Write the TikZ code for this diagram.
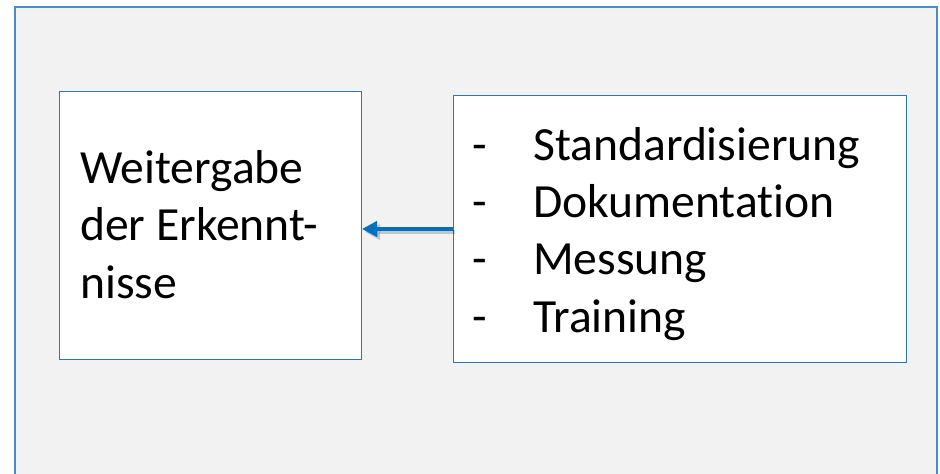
\documentclass[tikz,border=0pt]{standalone}
\usepackage{fontspec}
\setmainfont[RawFeature=-liga]{Carlito}
\usetikzlibrary{arrows.meta}
\definecolor{frameblue}{HTML}{4A8CC6}
\definecolor{boxblue}{HTML}{2E75B6}
\definecolor{arrowblue}{HTML}{0070C0}
\definecolor{bggray}{HTML}{F2F2F2}
\tikzset{
  panel/.style={draw=boxblue, line width=1pt, fill=white, rectangle, inner sep=0pt, anchor=north west},
  txt/.style={anchor=base west, inner sep=0pt, font=\fontsize{47.6}{57.5}\selectfont},
  link/.style={draw=arrowblue, line width=4pt, -{Triangle[length=15pt,width=15pt]}},
}
\begin{document}
\begin{tikzpicture}[x=1pt,y=-1pt]
\useasboundingbox (0,0) rectangle (940,474);
\fill[bggray] (15,7) rectangle (937,490);
\draw[frameblue, line width=1.5pt] (15,490) -- (15,7) -- (937,7) -- (937,490);
\node[panel, minimum width=302pt, minimum height=268pt] (left) at (59,91) {};
\node[panel, minimum width=453pt, minimum height=267pt] (right) at (453,95) {};
\node[txt] (l1) at (80,183) {Weitergabe};
\node[txt] (l2) at (80,240.5) {der Erkennt-};
\node[txt] (l3) at (80,298) {nisse};
\node[txt] (d1) at (472,160) {-};
\node[txt] (d2) at (472,217) {-};
\node[txt] (d3) at (472,274.5) {-};
\node[txt] (d4) at (472,332) {-};
\node[txt] (r1) at (533,160) {Standardisierung};
\node[txt] (r2) at (533,217) {Dokumentation};
\node[txt] (r3) at (533,274.5) {Messung};
\node[txt] (r4) at (533,332) {Training};
\coordinate (aS) at (right.west |- 0,229);
\coordinate (aE) at (left.east |- 0,229);
\draw[black, opacity=0.18, line width=4pt, -{Triangle[length=15pt,width=15pt]}] ([shift={(2,3)}]aS) -- ([shift={(3,3)}]aE);
\draw[link] (aS) -- (aE);
\end{tikzpicture}
\end{document}
